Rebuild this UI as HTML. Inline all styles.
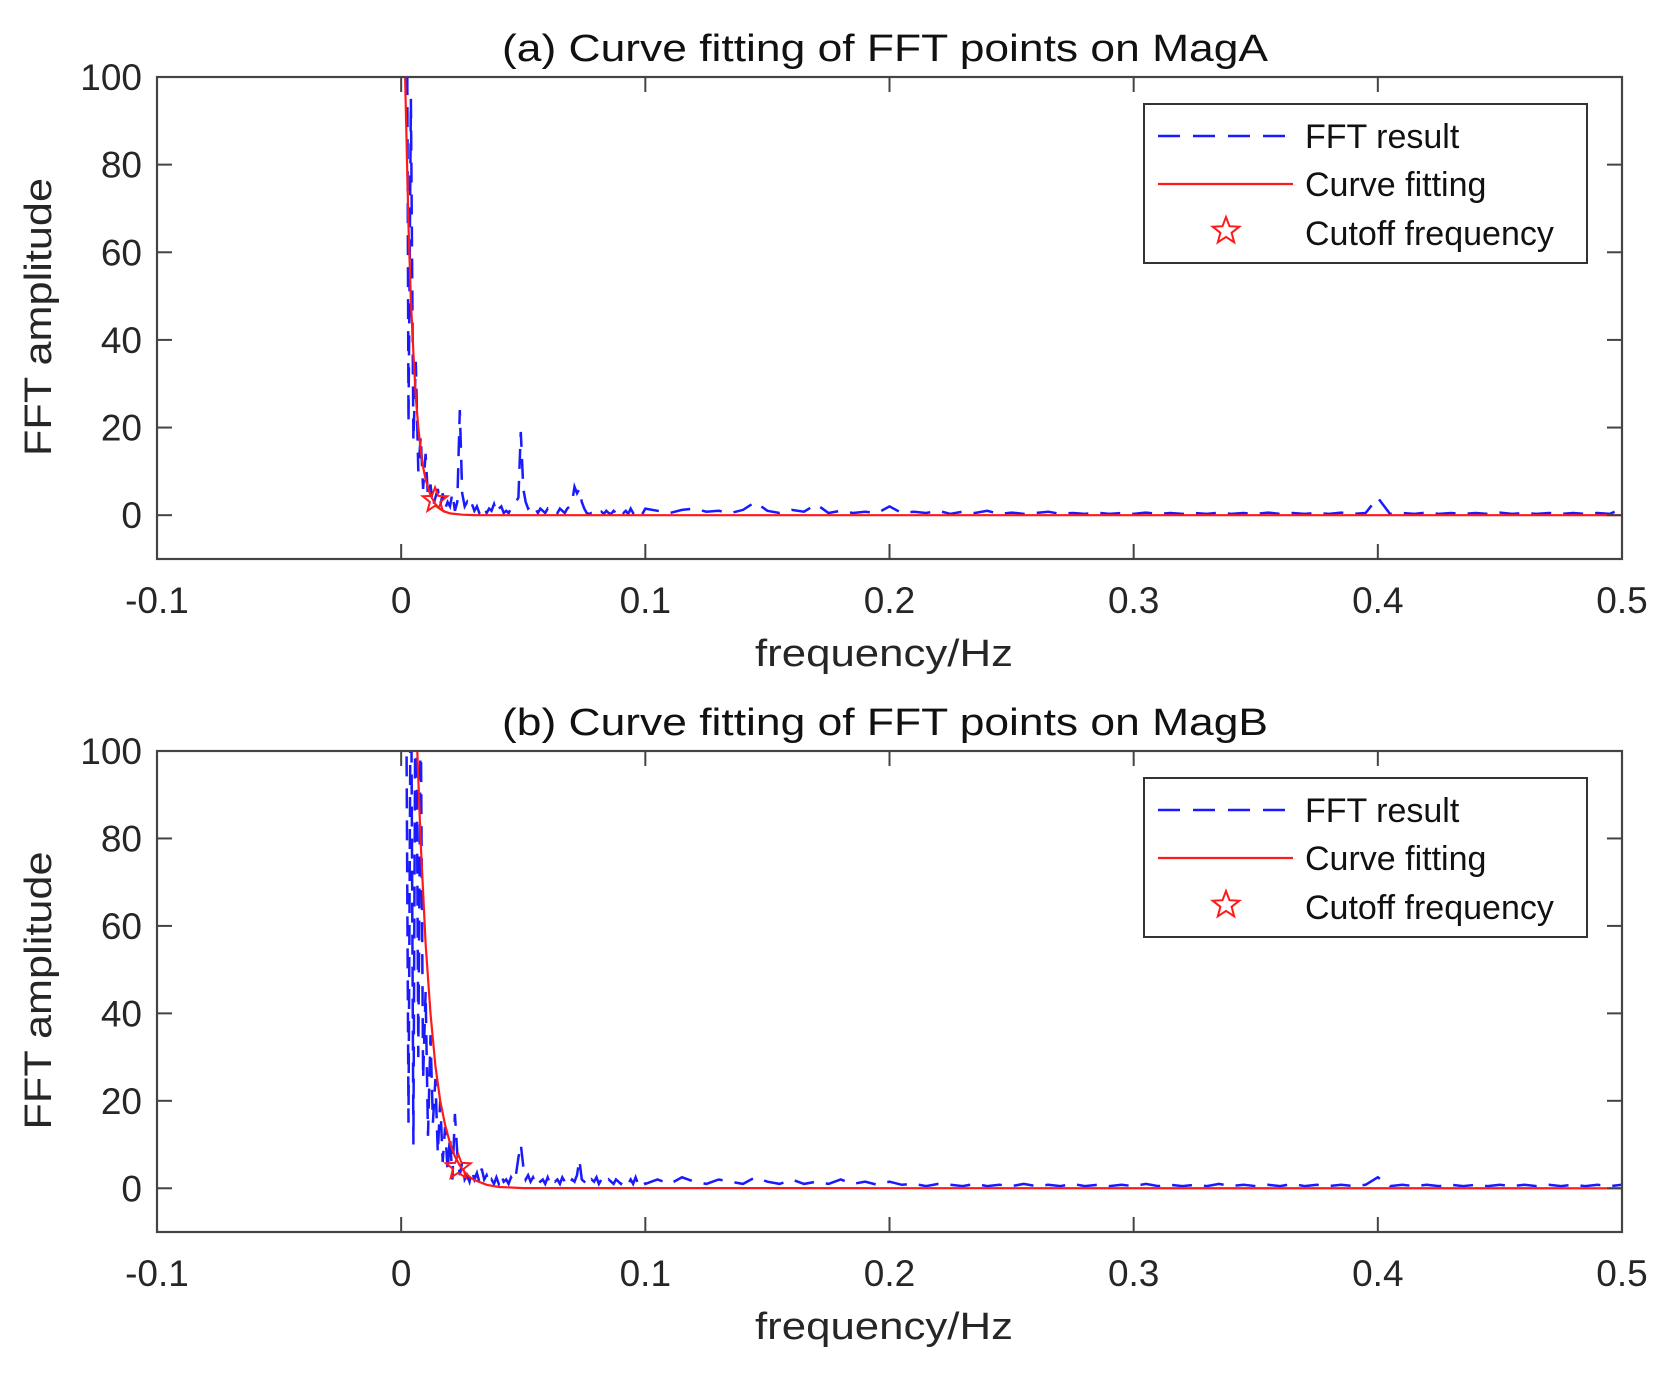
<!DOCTYPE html>
<html><head><meta charset="utf-8"><style>
html,body{margin:0;padding:0;background:#fff;}
svg{display:block;font-family:"Liberation Sans",Arial,sans-serif;}
</style></head><body>
<svg id="fig" width="1676" height="1376" viewBox="0 0 1676 1376" xmlns="http://www.w3.org/2000/svg"></svg>
<script>
// ---- data ----
const xTicks = [-0.1, 0, 0.1, 0.2, 0.3, 0.4, 0.5];
const xTickLabels = ["-0.1", "0", "0.1", "0.2", "0.3", "0.4", "0.5"];
const yTicks = [0, 20, 40, 60, 80, 100];
const yTickLabels = ["0", "20", "40", "60", "80", "100"];
const titles = ["(a) Curve fitting of FFT points on MagA", "(b) Curve fitting of FFT points on MagB"];
const legendLabels = ["FFT result", "Curve fitting", "Cutoff frequency"];
// FFT amplitudes: low band f = 0.001..0.100 step 0.001, high band f = 0.105..0.500 step 0.005
const lowStart = 0.001, lowStep = 0.001, highStart = 0.105, highStep = 0.005;
const fftA_low = [150,180,21,95,17,35,10,18,6,14,4,7,2,4,6,2,5,1.5,3,2,5,1,3,24,5,2,3,1.5,2.5,1,2,0.5,1.5,2,0.5,1.5,1,2.5,0.5,1.5,2,0.5,1,0.5,1.5,2,3,4,19,6,3,1.5,2,1,1.5,0.5,1.5,1,0.5,1.5,1,0.5,1,0.5,1.5,1,0.5,1.5,2,3,6.5,5,6,3,1.5,0.5,0.3,0.5,0.3,1,0.5,0.8,0.3,1,0.5,0.3,1,0.5,0.8,1.5,0.5,1,0.3,1.5,0.5,1,0.3,1,0.5,1.5];
const fftA_high = [1,0.5,1.2,1.5,0.8,1,0.5,1.2,3,1,0.5,1.2,0.8,2.5,0.5,1,0.5,0.8,0.5,2,0.5,0.8,0.5,1,0.3,0.8,0.5,1,0.3,0.6,0.3,0.5,0.8,0.3,0.5,0.3,0.6,0.3,0.5,0.3,0.6,0.3,0.5,0.3,0.5,0.3,0.6,0.3,0.5,0.3,0.6,0.3,0.5,0.3,0.5,0.3,0.6,0.3,0.5,4,0.3,0.5,0.3,0.6,0.3,0.5,0.3,0.5,0.3,0.6,0.3,0.5,0.3,0.5,0.3,0.5,0.3,0.5,0.3,1.5];
const fftB_low = [150,120,15,130,10,140,30,110,25,45,12,35,15,25,8,20,6,14,4,12,2,17,8,3,6,2,3,1.5,4,2,3.5,1.5,4.5,2,3,1,2,1,2.5,1,3,1.5,2,1,2.5,1.5,3,7,10,5,2,3,1.5,2.5,1,2,1.5,2,1,2.5,1,2,1.5,2,1,2.5,1.5,2,1,2,1.5,3,6.5,2,1.5,2,1,2,1.5,2.5,1,2,1.5,1,2,1.5,1,2,1.5,1,2,1.5,1,2,1,2.5,1,1.5,2,1];
const fftB_high = [2,1,2.5,1.5,1,2,1.5,1,2.5,1.5,1,2,1,1.5,1,2,1,1.5,0.8,1.5,0.8,1,0.5,1,0.8,0.5,1,0.5,0.8,0.5,1,0.5,0.8,0.5,1,0.5,0.8,0.5,0.8,0.5,1,0.5,0.8,0.5,0.8,0.5,1,0.5,0.8,0.5,0.8,0.5,1,0.5,0.8,0.5,0.8,0.5,0.8,2.5,0.5,0.8,0.5,0.8,0.5,0.8,0.5,0.8,0.5,0.8,0.5,0.8,0.5,0.8,0.5,0.8,0.5,0.8,0.5,0.8];
const fitA_f = [0.0016,0.003,0.004,0.005,0.006,0.007,0.008,0.009,0.010,0.012,0.014,0.016,0.018,0.020,0.025,0.030,0.04,0.5];
const fitA_v = [100,66,49,37,27,20,15,11,8.2,4.5,2.5,1.4,0.8,0.4,0.1,0.03,0,0];
const fitB_f = [0.0066,0.008,0.010,0.012,0.014,0.016,0.018,0.020,0.022,0.024,0.026,0.028,0.030,0.035,0.040,0.05,0.5];
const fitB_v = [100,79,56,40,28,20,14.5,10.3,7.3,5.2,3.7,2.6,1.9,0.8,0.3,0.05,0];
const cutoffA = [0.0139, 3.4];
const cutoffB = [0.0234, 4.8];

const NS = "http://www.w3.org/2000/svg";
const svg = document.getElementById("fig");
function mk(tag, attrs, parent) {
  const e = document.createElementNS(NS, tag);
  for (const k in attrs) e.setAttribute(k, attrs[k]);
  (parent || svg).appendChild(e);
  return e;
}
const X0 = 157, X1 = 1622, XMIN = -0.1, XMAX = 0.5, YMIN = -10, YMAX = 100;
function sx(f) { return X0 + (f - XMIN) / (XMAX - XMIN) * (X1 - X0); }
function starPts(cx, cy, R) {
  const r = R * 0.42; let p = [];
  for (let i = 0; i < 10; i++) {
    const a = -Math.PI / 2 + i * Math.PI / 5, rr = i % 2 ? r : R;
    p.push((cx + rr * Math.cos(a)).toFixed(1) + "," + (cy + rr * Math.sin(a)).toFixed(1));
  }
  return p.join(" ");
}

function panel(idx, top, bottom, fLow, fHigh, fitF, fitV, cut) {
  const sy = v => bottom - (v - YMIN) / (YMAX - YMIN) * (bottom - top);
  const g = mk("g", {});
  
  
  const cid = "clip" + idx;
  const cp = mk("clipPath", { id: cid }, g);
  mk("rect", { x: X0, y: top, width: X1 - X0, height: bottom - top }, cp);

  let pts = [];
  fLow.forEach((v, i) => pts.push(sx(lowStart + i * lowStep).toFixed(1) + "," + sy(v).toFixed(1)));
  fHigh.forEach((v, i) => pts.push(sx(highStart + i * highStep).toFixed(1) + "," + sy(v).toFixed(1)));
  const fft = mk("polyline", { points: pts.join(" "), fill: "none", stroke: "#1a1aff", "stroke-width": 2.5, "stroke-dasharray": "20,12", "clip-path": "url(#" + cid + ")" }, g);
  
  

  const fp = fitF.map((f, i) => sx(f).toFixed(1) + "," + sy(fitV[i]).toFixed(1)).join(" ");
  const fit = mk("polyline", { points: fp, fill: "none", stroke: "#ff1a1a", "stroke-width": 2.2, "clip-path": "url(#" + cid + ")" }, g);
  
  

  const st = mk("polygon", { points: starPts(sx(cut[0]), sy(cut[1]), 13), fill: "none", stroke: "#ff1a1a", "stroke-width": 2 }, g);
  
  

  const box = mk("rect", { x: X0, y: top, width: X1 - X0, height: bottom - top, fill: "none", stroke: "#444", "stroke-width": 2.2 }, g);
  
  
  const TL = 15;
  xTicks.forEach((t, i) => {
    const x = sx(t);
    mk("line", { x1: x, y1: bottom, x2: x, y2: bottom - TL, stroke: "#444", "stroke-width": 2 }, g);
    mk("line", { x1: x, y1: top, x2: x, y2: top + TL, stroke: "#444", "stroke-width": 2 }, g);
    const tx = mk("text", { x: x, y: bottom + 54, "font-size": 37, "text-anchor": "middle", fill: "#262626" }, g);
    tx.textContent = xTickLabels[i];
    
    
  });
  yTicks.forEach((t, i) => {
    const y = sy(t);
    mk("line", { x1: X0, y1: y, x2: X0 + TL, y2: y, stroke: "#444", "stroke-width": 2 }, g);
    mk("line", { x1: X1, y1: y, x2: X1 - TL, y2: y, stroke: "#444", "stroke-width": 2 }, g);
    const ty = mk("text", { x: 142, y: y + 13, "font-size": 37, "text-anchor": "end", fill: "#262626" }, g);
    ty.textContent = yTickLabels[i];
    
    
  });
  const ti = mk("text", { x: 885, y: top - 16, "font-size": 38, "text-anchor": "middle", fill: "#111", textLength: 766, lengthAdjust: "spacingAndGlyphs" }, g);
  ti.textContent = titles[idx];
  
  
  const xl = mk("text", { x: 884, y: bottom + 107, "font-size": 38, "text-anchor": "middle", fill: "#262626", textLength: 258, lengthAdjust: "spacingAndGlyphs" }, g);
  xl.textContent = "frequency/Hz";
  
  
  const cy = (top + bottom) / 2;
  const yl = mk("text", { x: 0, y: 0, transform: "translate(51," + (cy - 1) + ") rotate(-90)", "font-size": 38, "text-anchor": "middle", fill: "#262626", textLength: 278, lengthAdjust: "spacingAndGlyphs" }, g);
  yl.textContent = "FFT amplitude";
  
  

  const lt = top + 27;
  const lg = mk("g", {}, g);
  
  
  mk("rect", { x: 1144, y: lt, width: 443, height: 159, fill: "#fff", stroke: "#333", "stroke-width": 2 }, lg);
  const rows = [lt + 32, lt + 80, lt + 129];
  mk("line", { x1: 1158, y1: rows[0], x2: 1293, y2: rows[0], stroke: "#1a1aff", "stroke-width": 2.5, "stroke-dasharray": "22,13" }, lg);
  mk("line", { x1: 1158, y1: rows[1], x2: 1293, y2: rows[1], stroke: "#ff1a1a", "stroke-width": 2.2 }, lg);
  mk("polygon", { points: starPts(1226, rows[2] - 2, 14), fill: "none", stroke: "#ff1a1a", "stroke-width": 2 }, lg);
  legendLabels.forEach((s, i) => {
    const t = mk("text", { x: 1305, y: rows[i] + 12, "font-size": 34, fill: "#111" }, lg);
    t.textContent = s;
    
    
  });
}
panel(0, 77, 559, fftA_low, fftA_high, fitA_f, fitA_v, cutoffA);
panel(1, 751, 1232, fftB_low, fftB_high, fitB_f, fitB_v, cutoffB);
</script>
</body></html>
